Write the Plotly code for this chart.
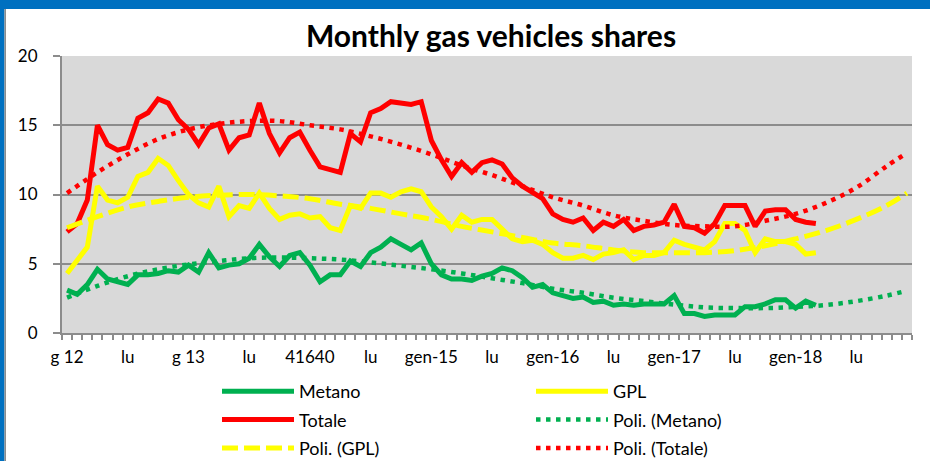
import plotly.graph_objects as go

# ---------------- data ----------------
TICK_LABELS = ["g 12", "lu", "g 13", "lu", "41640", "lu", "gen-15", "lu",
               "gen-16", "lu", "gen-17", "lu", "gen-18", "lu"]
N_MONTHS = 84  # Jan 2012 .. Dec 2018 (category slots)

METANO = [3.1, 2.8, 3.5, 4.6, 3.9, 3.7, 3.5, 4.2, 4.2, 4.3, 4.5, 4.4,
          4.9, 4.4, 5.8, 4.7, 4.9, 5.0, 5.4, 6.4, 5.5, 4.8, 5.6, 5.8,
          4.9, 3.7, 4.2, 4.2, 5.2, 4.8, 5.8, 6.2, 6.8, 6.4, 6.0, 6.5,
          5.0, 4.2, 3.9, 3.9, 3.8, 4.1, 4.3, 4.7, 4.5, 4.0, 3.3, 3.5,
          2.9, 2.7, 2.5, 2.6, 2.2, 2.3, 2.0, 2.1, 2.0, 2.1, 2.1, 2.1,
          2.7, 1.4, 1.4, 1.2, 1.3, 1.3, 1.3, 1.9, 1.9, 2.1, 2.4, 2.4,
          1.8, 2.3, 2.0]
GPL = [4.3, 5.2, 6.2, 10.6, 9.6, 9.4, 9.8, 11.3, 11.6, 12.6, 12.1, 11.0,
       10.0, 9.4, 9.1, 10.6, 8.4, 9.2, 9.0, 10.1, 9.0, 8.2, 8.5, 8.6,
       8.3, 8.4, 7.6, 7.4, 9.2, 9.0, 10.1, 10.1, 9.8, 10.2, 10.4, 10.2,
       9.1, 8.4, 7.5, 8.5, 8.0, 8.2, 8.2, 7.5, 6.8, 6.6, 6.7, 6.4,
       5.8, 5.4, 5.4, 5.6, 5.3, 5.7, 5.8, 6.0, 5.3, 5.6, 5.6, 5.8,
       6.7, 6.4, 6.2, 6.0, 6.6, 7.9, 7.9, 7.4, 5.8, 6.8, 6.6, 6.6,
       6.4, 5.7, 5.8]
TOTALE = [7.3, 7.9, 9.6, 15.0, 13.6, 13.2, 13.4, 15.5, 15.9, 16.9, 16.6, 15.4,
          14.7, 13.6, 14.8, 15.1, 13.2, 14.1, 14.3, 16.6, 14.4, 13.0, 14.1, 14.5,
          13.2, 12.0, 11.8, 11.6, 14.4, 13.8, 15.9, 16.2, 16.7, 16.6, 16.5, 16.7,
          13.9, 12.5, 11.3, 12.3, 11.6, 12.3, 12.5, 12.2, 11.2, 10.6, 10.1, 9.7,
          8.6, 8.2, 8.0, 8.3, 7.4, 8.0, 7.7, 8.2, 7.4, 7.7, 7.8, 8.0,
          9.3, 7.7, 7.6, 7.2, 7.9, 9.2, 9.2, 9.2, 7.7, 8.8, 8.9, 8.9,
          8.2, 8.0, 7.9]

# polynomial trend lines (every 3 months)
TREND_MONTHS = [0, 3, 6, 9, 12, 15, 18, 21, 24, 27, 30, 33, 36, 39, 42,
                45, 48, 51, 54, 57, 60, 63, 66, 69, 72, 75, 78, 81, 83]
POLY_METANO = [2.55, 3.4, 4.1, 4.6, 4.95, 5.2, 5.4, 5.45, 5.4, 5.3, 5.1, 4.85,
               4.6, 4.3, 3.95, 3.6, 3.2, 2.9, 2.55, 2.3, 2.05, 1.85, 1.8, 1.8,
               1.88, 2.02, 2.3, 2.7, 3.05]
POLY_GPL = [7.6, 8.4, 9.1, 9.5, 9.8, 9.95, 10.0, 9.9, 9.7, 9.3, 9.0, 8.6,
            8.2, 7.7, 7.3, 6.9, 6.5, 6.3, 6.0, 5.8, 5.8, 5.8, 5.95, 6.3,
            6.8, 7.4, 8.2, 9.2, 10.1]
POLY_TOTALE = [10.1, 11.6, 12.9, 14.0, 14.7, 15.1, 15.3, 15.3, 15.0, 14.7, 14.2,
               13.6, 12.9, 12.1, 11.4, 10.6, 9.8, 9.2, 8.5, 8.1, 7.8, 7.7, 7.7,
               8.1, 8.6, 9.4, 10.5, 12.05, 13.0]

GREEN = "#00B050"
YELLOW = "#FFFF00"
RED = "#FF0000"
FONT = "Lato"

months = list(range(len(METANO)))

fig = go.Figure()
fig.add_trace(go.Scatter(x=months, y=METANO, name="Metano", mode="lines",
                         line=dict(color=GREEN, width=5), legend="legend",
                         legendgroup="g1"))
fig.add_trace(go.Scatter(x=months, y=GPL, name="GPL", mode="lines",
                         line=dict(color=YELLOW, width=5), legend="legend2",
                         legendgroup="g2"))
fig.add_trace(go.Scatter(x=months, y=TOTALE, name="Totale", mode="lines",
                         line=dict(color=RED, width=5), legend="legend",
                         legendgroup="g3"))
fig.add_trace(go.Scatter(x=TREND_MONTHS, y=POLY_METANO, name="Poli. (Metano)",
                         mode="lines", line=dict(color=GREEN, width=4.5, dash="4.5px,5.5px",
                                                 shape="spline", smoothing=1),
                         legend="legend2", legendgroup="g4"))
fig.add_trace(go.Scatter(x=TREND_MONTHS, y=POLY_GPL, name="Poli. (GPL)",
                         mode="lines", line=dict(color=YELLOW, width=5, dash="16px,6px",
                                                 shape="spline", smoothing=1),
                         legend="legend", legendgroup="g5"))
fig.add_trace(go.Scatter(x=TREND_MONTHS, y=POLY_TOTALE, name="Poli. (Totale)",
                         mode="lines", line=dict(color=RED, width=4.5, dash="4.5px,5.5px",
                                                 shape="spline", smoothing=1),
                         legend="legend2", legendgroup="g6"))

W, H = 930, 461
L, R, T, B = 62, 18, 56, 128
PW, PH = W - L - R, H - T - B


def px_x(px):
    return (px - L) / PW


def px_y(py):
    return (H - B - py) / PH


shapes = [
    dict(type="rect", xref="paper", yref="paper", x0=px_x(0), x1=px_x(4.5),
         y0=px_y(H), y1=px_y(0), fillcolor="#0070C0", line_width=0, layer="above"),
    dict(type="rect", xref="paper", yref="paper", x0=px_x(0), x1=px_x(W),
         y0=px_y(9), y1=px_y(0), fillcolor="#0070C0", line_width=0, layer="above"),
    dict(type="rect", xref="paper", yref="paper", x0=px_x(4.5), x1=px_x(6),
         y0=px_y(H), y1=px_y(9), fillcolor="#8C8C8C", line_width=0, layer="above"),
]

legend_common = dict(orientation="v", bgcolor="rgba(0,0,0,0)", borderwidth=0,
                     font=dict(family=FONT, size=18, color="#000000"),
                     xanchor="left", yanchor="top", itemwidth=72,
                     tracegroupgap=2, traceorder="grouped")

fig.update_layout(
    width=W, height=H,
    margin=dict(l=L, r=R, t=T, b=B, pad=0, autoexpand=False),
    paper_bgcolor="#FFFFFF",
    plot_bgcolor="#D9D9D9",
    font=dict(family=FONT, size=17, color="#000000"),
    title=dict(text="<b>Monthly gas vehicles shares</b>", x=px_x(491), xref="paper",
               xanchor="center", y=1 - 36.5 / H, yref="container", yanchor="middle",
               font=dict(family=FONT, size=30, color="#000000")),
    xaxis=dict(range=[-0.5, N_MONTHS - 0.5], tickmode="array",
               tickvals=list(range(0, N_MONTHS, 6)), ticktext=TICK_LABELS,
               ticks="", showgrid=False, zeroline=False,
               showline=True, linecolor="#8C8C8C", linewidth=2,
               tickfont=dict(family=FONT, size=17, color="#000000"),
               ticklabelstandoff=8,
               minor=dict(tickmode="linear", tick0=-0.5, dtick=1, ticks="outside",
                          ticklen=5, tickcolor="#8C8C8C", tickwidth=1.5, showgrid=False)),
    yaxis=dict(range=[0, 20], tickmode="linear", tick0=0, dtick=5,
               ticks="outside", ticklen=7, tickcolor="#8C8C8C", tickwidth=1.5,
               showgrid=True, gridcolor="#8C8C8C", gridwidth=1.5,
               zeroline=False, showline=True, linecolor="#8C8C8C", linewidth=2,
               tickfont=dict(family=FONT, size=17, color="#000000"),
               ticklabelstandoff=12),
    legend=dict(legend_common, x=px_x(217), y=px_y(373)),
    legend2=dict(legend_common, x=px_x(531), y=px_y(373)),
    shapes=shapes,
    showlegend=True,
)

# remove the browser's default 8px page margin so the figure sits at the window origin
fig.write_html("out.html", config={"displayModeBar": False},
               post_script="document.body.style.margin='0px';")
